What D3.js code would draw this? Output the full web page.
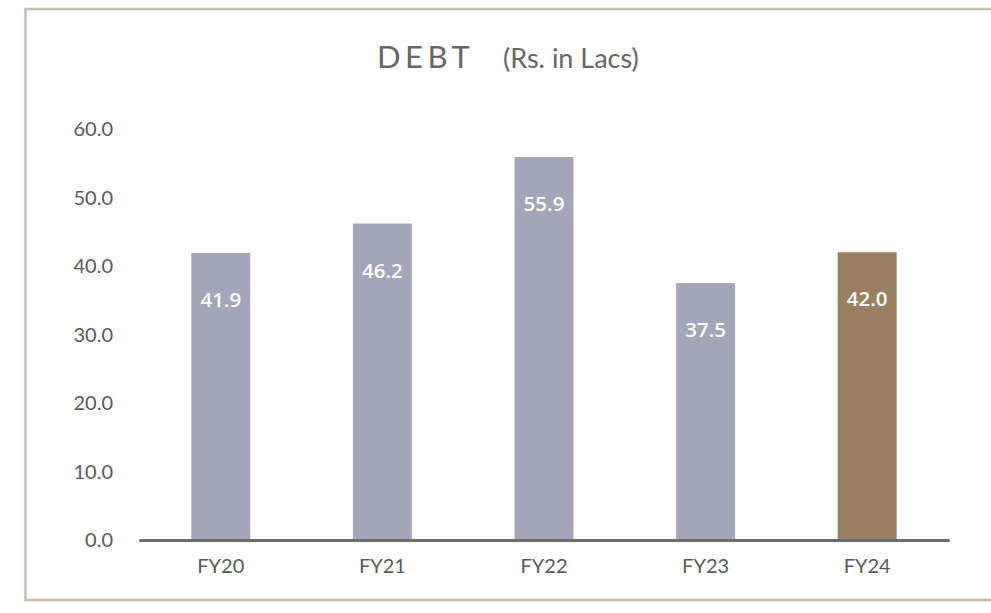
<!DOCTYPE html>
<html>
<head>
<meta charset="utf-8">
<script src="https://cdn.jsdelivr.net/npm/d3@7"></script>
<style>
  body { margin: 0; background: #fff; }
</style>
</head>
<body>
<script>
// data
var years = ["FY20", "FY21", "FY22", "FY23", "FY24"];
var debt = [41.9, 46.2, 55.9, 37.5, 42.0];
var yTicks = [0, 10, 20, 30, 40, 50, 60];

var outerWidth = 991, outerHeight = 613;

var svg = d3.select("body").append("svg")
  .attr("width", outerWidth)
  .attr("height", outerHeight);

// beige frame, runs off the right edge
svg.append("rect")
  .attr("x", 25.5).attr("y", 9)
  .attr("width", 1000).attr("height", 591)
  .style("fill", "none")
  .style("stroke", "#c9bcab")
  .style("stroke-width", 2.5);

// title
var title = svg.append("text")
  .attr("x", 377).attr("y", 68)
  .style("font-family", "Lato, 'Open Sans', sans-serif")
  .style("fill", "#666666");
title.append("tspan")
  .text("DEBT")
  .style("font-size", "31px")
  .style("letter-spacing", "4.5px");
title.append("tspan")
  .attr("x", 503)
  .text("(Rs. in Lacs)")
  .style("font-size", "27px");

var x = d3.scaleBand()
  .domain(years)
  .range([140, 948])
  .paddingInner(0.635)
  .paddingOuter(0.3175);

var y = d3.scaleLinear()
  .domain([0, 60])
  .range([540, 129]);

// y tick labels (no axis line)
svg.selectAll(".ytick")
  .data(yTicks)
  .enter().append("text")
  .attr("class", "ytick")
  .attr("x", 113)
  .attr("y", function (d) { return y(d); })
  .attr("dy", "0.35em")
  .attr("text-anchor", "end")
  .style("font-family", "Lato, sans-serif")
  .style("font-size", "20px")
  .style("fill", "#595959")
  .text(function (d) { return d3.format(".1f")(d); });

// bars
svg.selectAll(".bar")
  .data(debt)
  .enter().append("rect")
  .attr("class", "bar")
  .attr("x", function (d, i) { return x(years[i]); })
  .attr("y", function (d) { return y(d); })
  .attr("width", x.bandwidth())
  .attr("height", function (d) { return y(0) - y(d); })
  .style("fill", function (d, i) { return i == years.length - 1 ? "#9a8061" : "#a2a6b8"; });

// value labels inside bars
svg.selectAll(".val")
  .data(debt)
  .enter().append("text")
  .attr("class", "val")
  .attr("x", function (d, i) { return x(years[i]) + x.bandwidth() / 2; })
  .attr("y", function (d) { return y(d) + 47; })
  .attr("dy", "0.35em")
  .attr("text-anchor", "middle")
  .style("font-family", "'Open Sans', sans-serif")
  .style("font-weight", "600")
  .style("font-size", "20.5px")
  .style("fill", "#ffffff")
  .text(function (d) { return d3.format(".1f")(d); });

// x axis
var xAxis = d3.axisBottom(x).tickSize(0).tickPadding(19);
var gx = svg.append("g")
  .attr("transform", "translate(0," + y(0) + ")")
  .call(xAxis);
gx.select(".domain")
  .style("stroke", "#6b6b6b")
  .style("stroke-width", 3)
  .style("stroke-linecap", "round");
gx.selectAll("text")
  .style("font-family", "Lato, sans-serif")
  .style("font-size", "20px")
  .style("fill", "#595959");
</script>
</body>
</html>
